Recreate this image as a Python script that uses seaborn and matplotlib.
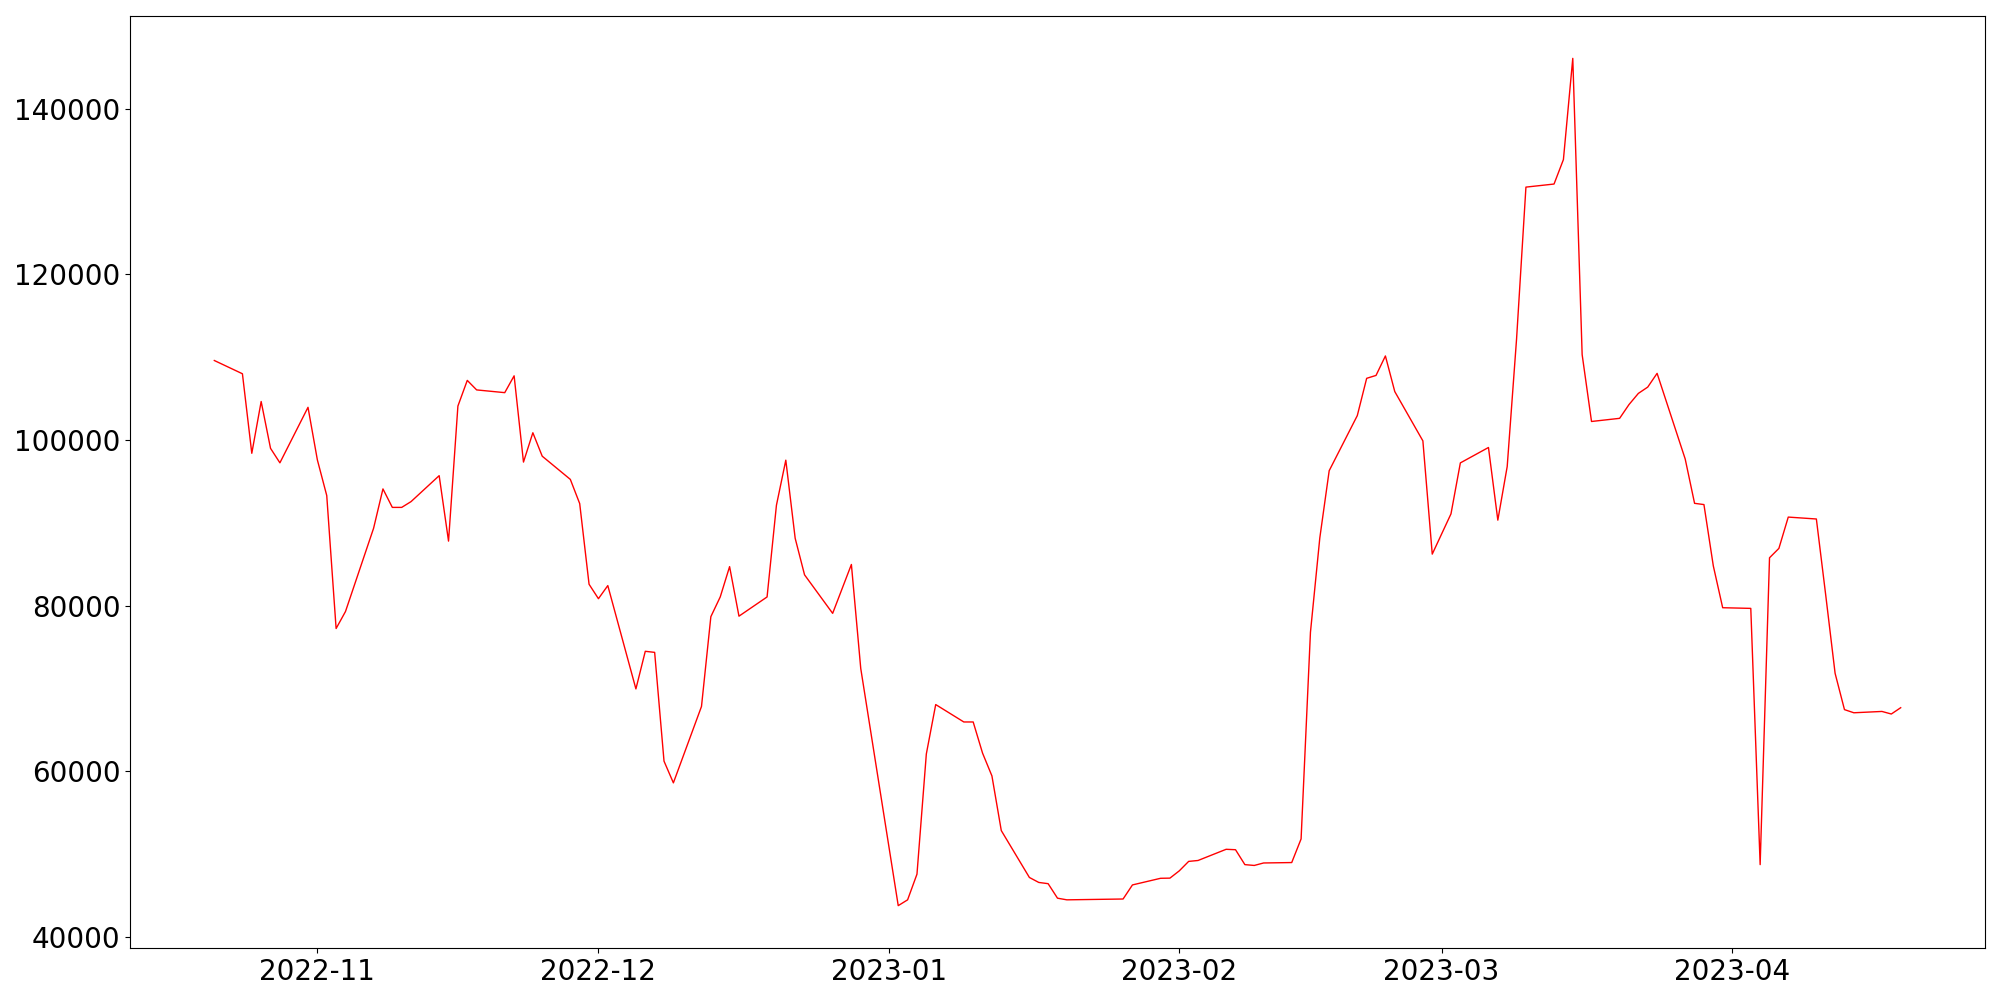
import pandas as pd
import matplotlib.pyplot as plt
import seaborn as sns

# Daily values (weekdays)
dates = [
    "2022-10-21", "2022-10-24", "2022-10-25", "2022-10-26", "2022-10-27", "2022-10-28",
    "2022-10-31", "2022-11-01", "2022-11-02", "2022-11-03", "2022-11-04",
    "2022-11-07", "2022-11-08", "2022-11-09", "2022-11-10", "2022-11-11",
    "2022-11-14", "2022-11-15", "2022-11-16", "2022-11-17", "2022-11-18",
    "2022-11-21", "2022-11-22", "2022-11-23", "2022-11-24", "2022-11-25",
    "2022-11-28", "2022-11-29", "2022-11-30", "2022-12-01", "2022-12-02",
    "2022-12-05", "2022-12-06", "2022-12-07", "2022-12-08", "2022-12-09",
    "2022-12-12", "2022-12-13", "2022-12-14", "2022-12-15", "2022-12-16",
    "2022-12-19", "2022-12-20", "2022-12-21", "2022-12-22", "2022-12-23",
    "2022-12-26", "2022-12-28", "2022-12-29",
    "2023-01-02", "2023-01-03", "2023-01-04", "2023-01-05", "2023-01-06",
    "2023-01-09", "2023-01-10", "2023-01-11", "2023-01-12", "2023-01-13",
    "2023-01-16", "2023-01-17", "2023-01-18", "2023-01-19", "2023-01-20",
    "2023-01-26", "2023-01-27",
    "2023-01-30", "2023-01-31", "2023-02-01", "2023-02-02", "2023-02-03",
    "2023-02-06", "2023-02-07", "2023-02-08", "2023-02-09", "2023-02-10",
    "2023-02-13", "2023-02-14", "2023-02-15", "2023-02-16", "2023-02-17",
    "2023-02-20", "2023-02-21", "2023-02-22", "2023-02-23", "2023-02-24",
    "2023-02-27", "2023-02-28", "2023-03-02", "2023-03-03",
    "2023-03-06", "2023-03-07", "2023-03-08", "2023-03-09", "2023-03-10",
    "2023-03-13", "2023-03-14", "2023-03-15", "2023-03-16", "2023-03-17",
    "2023-03-20", "2023-03-21", "2023-03-22", "2023-03-23", "2023-03-24",
    "2023-03-27", "2023-03-28", "2023-03-29", "2023-03-30", "2023-03-31",
    "2023-04-03", "2023-04-04", "2023-04-05", "2023-04-06", "2023-04-07",
    "2023-04-10", "2023-04-11", "2023-04-12", "2023-04-13", "2023-04-14",
    "2023-04-17", "2023-04-18", "2023-04-19",
]

values = [
    109600, 108000, 98400, 104650, 99000, 97250,
    103950, 97600, 93300, 77250, 79300,
    89350, 94100, 91870, 91870, 92570,
    95700, 87800, 104100, 107200, 106050,
    105720, 107750, 97340, 100880, 98050,
    95250, 92330, 82590, 80850, 82430,
    69960, 74500, 74370, 61240, 58620,
    67840, 78680, 81060, 84720, 78740,
    81060, 92130, 97570, 88140, 83730,
    79080, 84980, 72420,
    43800, 44500, 47600, 62110, 68070,
    65970, 65970, 62210, 59460, 52860,
    47200, 46600, 46450, 44700, 44500,
    44600, 46300,
    47100, 47120, 48000, 49140, 49250,
    50600, 50550, 48750, 48650, 48950,
    49000, 51850, 76800, 88200, 96300,
    102950, 107450, 107800, 110150, 105850,
    99900, 86230, 91090, 97240,
    99100, 90330, 96800, 112200, 130530,
    130900, 133850, 146070, 110310, 102240,
    102620, 104280, 105630, 106390, 108050,
    97710, 92360, 92210, 84810, 79760,
    79680, 48750, 85790, 86920, 90700,
    90470, 81270, 71840, 67460, 67080,
    67240, 66930, 67690,
]

df = pd.DataFrame({"date": pd.to_datetime(dates), "value": values})

fig = plt.figure(figsize=(20, 10), dpi=100)
ax = fig.add_axes([0.065, 0.052, 0.9275, 0.932])
sns.lineplot(data=df, x="date", y="value", color="red", linewidth=1, ax=ax)

ax.set_xlabel("")
ax.set_ylabel("")
ax.tick_params(axis="both", labelsize=20)

plt.savefig("out.png", dpi=100)
plt.close()
